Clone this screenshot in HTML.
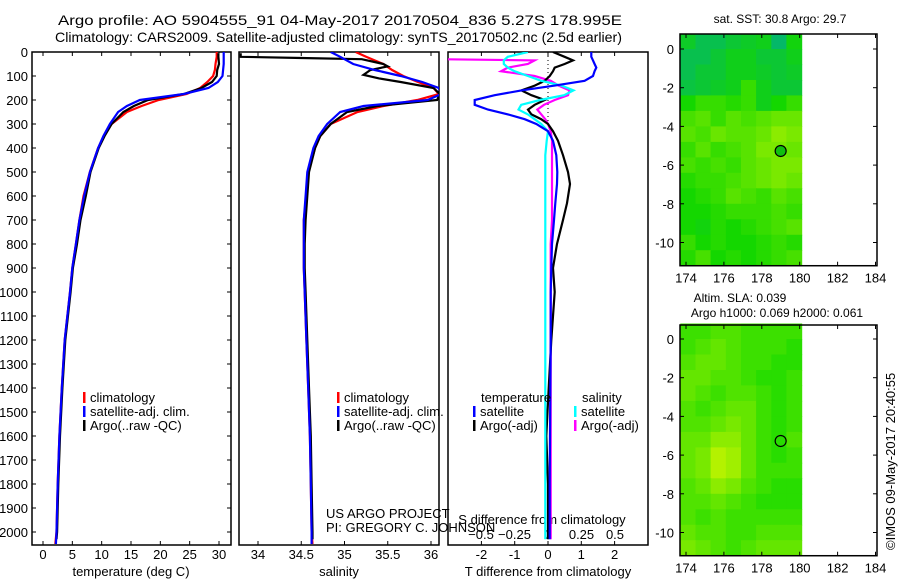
<!DOCTYPE html>
<html><head><meta charset="utf-8"><style>
body{margin:0;background:#fff}
svg{display:block;font-family:"Liberation Sans",sans-serif}
</style></head><body>
<svg id="c" width="900" height="580" viewBox="0 0 900 580">
<defs>
<clipPath id="cp1"><rect x="32" y="52" width="199" height="493"/></clipPath>
<clipPath id="cp2"><rect x="239" y="52" width="200" height="493"/></clipPath>
<clipPath id="cp3"><rect x="448" y="52" width="200" height="493"/></clipPath>
</defs>
<text x="58" y="25" font-size="14" textLength="564" lengthAdjust="spacingAndGlyphs">Argo profile: AO 5904555_91 04-May-2017 20170504_836 5.27S 178.995E</text>
<text x="55" y="42" font-size="14" textLength="567" lengthAdjust="spacingAndGlyphs">Climatology: CARS2009. Satellite-adjusted climatology: synTS_20170502.nc (2.5d earlier)</text>
<g id="g"></g>
</svg>
<script>
const depthTS=[0,20,50,75,100,125,150,175,200,225,250,300,350,400,500,600,700,800,900,1000,1200,1400,1600,1800,2000,2050];
const tempClim=[29.6,29.6,29.4,29.3,29.0,28.0,26.8,24.5,19.7,16.8,14.3,11.7,10.4,9.4,8.0,6.9,6.2,5.6,5.0,4.6,3.7,3.2,2.8,2.5,2.3,2.1];
const tempSat=[30.8,30.8,30.8,30.7,30.6,29.8,28.2,24.0,16.5,14.3,12.8,11.4,10.3,9.4,8.0,7.0,6.2,5.6,5.0,4.6,3.7,3.2,2.8,2.5,2.3,2.2];
const depthArgoT=[5,20,50,75,100,125,150,175,200,225,250,300,350,400,500,600,700,800,900,1000,1200,1400,1600,1800,2000,2030];
const tempArgo=[29.9,29.9,30.0,29.7,29.6,28.8,27.0,24.0,17.9,15.5,13.7,11.7,10.5,9.5,8.1,7.3,6.4,5.8,5.1,4.7,3.8,3.3,2.9,2.6,2.4,2.3];
const salClim=[35.13,35.25,35.45,35.55,35.68,35.85,36.03,36.09,35.84,35.45,35.15,34.84,34.72,34.66,34.58,34.56,34.53,34.53,34.53,34.54,34.56,34.58,34.6,34.61,34.62,34.63];
const salSat=[34.84,34.95,35.1,35.35,35.65,35.9,36.09,36.12,35.96,35.22,34.95,34.8,34.7,34.64,34.57,34.55,34.53,34.53,34.53,34.54,34.56,34.58,34.6,34.61,34.62,34.62];
const depthArgoS=[5,20,25,30,50,60,75,95,110,125,150,175,200,225,250,300,350,400,500,600,700,800,900,1000,1200,1400,1600,1800,2000,2030];
const salArgo=[33.8,33.8,34.5,35.2,35.45,35.5,35.3,35.22,35.4,35.65,36.03,36.1,36.07,35.38,35.03,34.84,34.72,34.66,34.59,34.57,34.55,34.54,34.54,34.55,34.57,34.59,34.61,34.62,34.63,34.63];
const depthDiff=[0,20,35,50,65,80,100,120,140,160,180,200,220,240,260,280,300,330,370,430,500,550,630,700,800,900,1000,1200,1400,1600,1800,2000,2030];
const diffTSat=[1.3,1.3,1.35,1.4,1.45,1.4,1.35,1.1,0.2,-0.8,-1.6,-2.2,-2.2,-1.8,-1.2,-0.7,-0.35,0,0.15,0.25,0.28,0.27,0.22,0.18,0.12,0.1,0.08,0.08,0.07,0.06,0.05,0.05,0.05];
const diffTArgo=[0.15,0.5,0.75,0.5,0.2,0.15,0.05,-0.1,-0.4,-0.8,-0.5,-0.1,-0.4,-0.6,-0.5,-0.2,0,0.15,0.3,0.45,0.6,0.66,0.57,0.45,0.27,0.15,0.2,0.1,0.02,-0.05,0,0,0];
const diffSSat=[-0.15,-0.3,-0.33,-0.33,-0.3,-0.25,-0.15,-0.05,0.1,0.19,0.12,-0.06,-0.2,-0.22,-0.15,-0.1,-0.05,0,-0.01,-0.02,-0.02,-0.02,-0.02,-0.02,-0.02,-0.02,-0.02,-0.02,-0.02,-0.02,-0.02,-0.02,-0.02];
const depthDiffSArgo=[25,30,35,50,65,80,100,120,140,160,180,200,220,240,260,280,300,330,370,430,500,550,630,700,800,900,1000,1200,1400,1600,1800,2000,2030];
const diffSArgo=[-0.8,-0.8,-0.1,-0.15,-0.3,-0.35,-0.1,0.02,0.08,0.16,0.15,0.05,-0.03,-0.08,-0.05,-0.02,0,0.02,0.03,0.03,0.03,0.03,0.03,0.03,0.02,0.02,0.02,0.02,0.02,0.02,0.02,0.02,0.02];
const depthTicks=[0,100,200,300,400,500,600,700,800,900,1000,1100,1200,1300,1400,1500,1600,1700,1800,1900,2000];
const tempTicks=[0,5,10,15,20,25,30];
const salTicks=[34,34.5,35,35.5,36];
const tdTicks=[-2,-1,0,1,2];
const sdTicks=[-0.5,-0.25,0,0.25,0.5];
const lonTicks=[174,176,178,180,182,184];
const latTicks=[0,-2,-4,-6,-8,-10];
const sstGrid=[
[0.35,0.2,0.2,0.3,0.35,0.4,0.1,0.45],[0.2,0.2,0.3,0.4,0.4,0.3,0.3,0.4],[0.2,0.3,0.3,0.4,0.4,0.35,0.3,0.35],
[0.25,0.3,0.35,0.4,0.6,0.4,0.3,0.3],[0.5,0.6,0.6,0.55,0.6,0.4,0.5,0.6],[0.65,0.7,0.6,0.7,0.65,0.7,0.75,0.75],
[0.7,0.65,0.75,0.7,0.7,0.75,0.85,0.8],[0.6,0.7,0.6,0.65,0.7,0.8,0.8,0.75],[0.65,0.6,0.65,0.6,0.7,0.75,0.8,0.8],
[0.55,0.6,0.6,0.65,0.7,0.75,0.8,0.75],[0.5,0.55,0.6,0.7,0.65,0.6,0.7,0.65],[0.5,0.5,0.55,0.6,0.6,0.6,0.65,0.6],
[0.5,0.45,0.55,0.5,0.55,0.6,0.65,0.7],[0.6,0.5,0.55,0.5,0.5,0.55,0.6,0.55],[0.55,0.65,0.5,0.55,0.5,0.55,0.6,0.65]];
const slaGrid=[
[0.3,0.3,0.4,0.4,0.3,0.3,0.3,0.3],[0.3,0.4,0.5,0.4,0.3,0.3,0.3,0.2],[0.4,0.5,0.5,0.4,0.3,0.3,0.2,0.2],
[0.5,0.5,0.4,0.4,0.3,0.2,0.2,0.3],[0.5,0.4,0.3,0.4,0.4,0.3,0.2,0.3],[0.4,0.3,0.4,0.5,0.5,0.3,0.2,0.3],
[0.4,0.4,0.5,0.6,0.5,0.3,0.2,0.3],[0.5,0.5,0.7,0.7,0.5,0.3,0.2,0.4],[0.5,0.6,0.9,0.8,0.5,0.3,0.2,0.3],
[0.5,0.6,0.9,0.8,0.5,0.3,0.3,0.3],[0.4,0.5,0.7,0.6,0.4,0.3,0.2,0.2],[0.4,0.4,0.5,0.4,0.3,0.2,0.2,0.2],
[0.4,0.3,0.4,0.3,0.3,0.3,0.3,0.3],[0.5,0.4,0.4,0.3,0.3,0.4,0.4,0.4],[0.6,0.5,0.4,0.3,0.4,0.5,0.5,0.5]];
const argoPos=[178.995,-5.27];

const NS='http://www.w3.org/2000/svg';
const G=document.getElementById('g');
function el(t,a,p){const e=document.createElementNS(NS,t);for(const k in a)e.setAttribute(k,a[k]);(p||G).appendChild(e);return e;}
function txt(x,y,s,anchor,size,p){const e=el('text',{x:x,y:y,'font-size':size||13,'text-anchor':anchor||'start'},p);e.textContent=s;return e;}
const yD=d=>52+d*0.24;
const xT=v=>43+v*5.8667;
const xS=v=>258+(v-34)*86.5;
const xTD=v=>548+v*33.3;
const xSD=v=>548+v*134;

function panel(x0,w,name){
  const r=el('rect',{x:x0,y:52,width:w,height:493,fill:'none',stroke:'#000','stroke-width':1.5});
  
  
}
function line(xs,ds,xf,color,clip,name){
  let d='';xs.forEach((v,i)=>{d+=(i?'L':'M')+xf(v).toFixed(1)+','+yD(ds[i]).toFixed(1);});
  const p=el('path',{d:d,fill:'none',stroke:color,'stroke-width':2.2,'clip-path':'url(#'+clip+')'});
  
  
}
panel(32,199,'temperature-panel');
depthTicks.forEach(d=>{
  el('line',{x1:32,x2:36,y1:yD(d),y2:yD(d),stroke:'#000'});
  el('line',{x1:227,x2:231,y1:yD(d),y2:yD(d),stroke:'#000'});
  const t=txt(28,yD(d)+5,String(d),'end',13);
  
  
});
tempTicks.forEach(v=>{
  el('line',{x1:xT(v),x2:xT(v),y1:541,y2:545,stroke:'#000'});
  el('line',{x1:xT(v),x2:xT(v),y1:52,y2:56,stroke:'#000'});
  const t=txt(xT(v),559,String(v),'middle',13);
  
  
});
let t1=txt(131,576,'temperature (deg C)','middle',13);


line(tempClim,depthTS,xT,'#f00','cp1','temp-climatology-line');
line(tempArgo,depthArgoT,xT,'#000','cp1','temp-argo-line');
line(tempSat,depthTS,xT,'#00f','cp1','temp-satellite-line');
function legend(x,y,color,label,name){
  const g=el('g',{});
  
  
  el('rect',{x:x,y:y-10,width:2.5,height:11,fill:color},g);
  txt(x+7,y,label,'start',13,g);
}
legend(83,402,'#f00','climatology','legend-climatology');
legend(83,416,'#00f','satellite-adj. clim.','legend-satellite');
legend(83,430,'#000','Argo(..raw -QC)','legend-argo');
panel(239,200,'salinity-panel');
salTicks.forEach(v=>{
  el('line',{x1:xS(v),x2:xS(v),y1:541,y2:545,stroke:'#000'});
  el('line',{x1:xS(v),x2:xS(v),y1:52,y2:56,stroke:'#000'});
  const t=txt(xS(v),559,String(v),'middle',13);
  
  
});
let t2=txt(339,576,'salinity','middle',13);


line(salClim,depthTS,xS,'#f00','cp2','sal-climatology-line');
line(salArgo,depthArgoS,xS,'#000','cp2','sal-argo-line');
line(salSat,depthTS,xS,'#00f','cp2','sal-satellite-line');
legend(337,402,'#f00','climatology','legend-sal-climatology');
legend(337,416,'#00f','satellite-adj. clim.','legend-sal-satellite');
legend(337,430,'#000','Argo(..raw -QC)','legend-sal-argo');
let c1=txt(326,518,'US ARGO PROJECT','start',13);


let c2=txt(326,532,'PI: GREGORY C. JOHNSON','start',13);


panel(448,200,'difference-panel');
el('line',{x1:548,x2:548,y1:52,y2:125,stroke:'#000','stroke-dasharray':'1,3'});
tdTicks.forEach(v=>{
  el('line',{x1:xTD(v),x2:xTD(v),y1:541,y2:545,stroke:'#000'});
  el('line',{x1:xTD(v),x2:xTD(v),y1:52,y2:56,stroke:'#000'});
  const t=txt(xTD(v),559,String(v),'middle',13);
  
  
});
sdTicks.forEach(v=>{
  const t=txt(xSD(v),539,String(v).replace('-','\u2212'),'middle',13);
  
  
});
let t3=txt(542,524,'S difference from climatology','middle',13);


let t4=txt(548,576,'T difference from climatology','middle',13);


line(diffSArgo,depthDiffSArgo,xSD,'#f0f','cp3','s-diff-argo-line');
line(diffTArgo,depthDiff,xTD,'#000','cp3','t-diff-argo-line');
line(diffSSat,depthDiff,xSD,'#0ff','cp3','s-diff-satellite-line');
line(diffTSat,depthDiff,xTD,'#00f','cp3','t-diff-satellite-line');
let l1=txt(481,402,'temperature','start',13);


let l2=txt(582,402,'salinity','start',13);


legend(473,416,'#00f','satellite','legend-t-satellite');
legend(473,430,'#000','Argo(-adj)','legend-t-argo');
legend(574,416,'#0ff','satellite','legend-s-satellite');
legend(574,430,'#f0f','Argo(-adj)','legend-s-argo');

function mix(a,b,t){return a.map((v,i)=>Math.round(v+(b[i]-v)*t));}
function sstColor(v){const c0=[0,176,130],c1=[20,215,0],c2=[190,245,0];
  const c=v<0.5?mix(c0,c1,v/0.5):mix(c1,c2,(v-0.5)/0.5);return 'rgb('+c.join(',')+')';}
function slaColor(v){const c=mix([0,215,0],[200,245,0],v);return 'rgb('+c.join(',')+')';}
function map(top,lat0y,grid,colf,name,filled){
  const xL=lon=>686+(lon-174)*18.95, yL=lat=>lat0y-lat*19.35;
  const g=el('g',{});
  
  
  const lonA=173.7,lonB=180.1,latA=0.8,latB=-11.2;
  const nr=grid.length,nc=grid[0].length;
  const cw=(lonB-lonA)/nc,ch=(latA-latB)/nr;
  grid.forEach((row,i)=>row.forEach((v,j)=>{
    const x=xL(lonA+j*cw),y=yL(latA-i*ch);
    const r=el('rect',{x:x.toFixed(1),y:y.toFixed(1),width:(cw*18.95+0.6).toFixed(1),height:(ch*19.35+0.6).toFixed(1),fill:colf(v)},g);
    
    
  }));
  const bottom=yL(latB);
  el('rect',{x:680,y:top,width:197,height:bottom-top,fill:'none',stroke:'#000','stroke-width':1.5},g);
  lonTicks.forEach(v=>{
    el('line',{x1:xL(v),x2:xL(v),y1:top,y2:top+4,stroke:'#000'},g);
    el('line',{x1:xL(v),x2:xL(v),y1:bottom-4,y2:bottom,stroke:'#000'},g);
    txt(xL(v),bottom+17,String(v),'middle',13,g);
  });
  latTicks.forEach(v=>{
    el('line',{x1:680,x2:684,y1:yL(v),y2:yL(v),stroke:'#000'},g);
    el('line',{x1:873,x2:877,y1:yL(v),y2:yL(v),stroke:'#000'},g);
    txt(674,yL(v)+5,String(v),'end',13,g);
  });
  const m=el('circle',{cx:xL(argoPos[0]),cy:yL(argoPos[1]),r:5.5,fill:filled?'#10c010':'none',stroke:'#000','stroke-width':1.2},g);
  
  
}
map(34,49,sstGrid,sstColor,'sst-map',true);
map(325,339,slaGrid,slaColor,'sla-map',false);
let m1=txt(780,23,'sat. SST: 30.8 Argo: 29.7','middle',12);


let m2=txt(740,302,'Altim. SLA: 0.039','middle',12);


let m3=txt(777,317,'Argo h1000: 0.069 h2000: 0.061','middle',12);


let cr=txt(0,0,'\u00A9IMOS 09-May-2017 20:40:55','start',13);
cr.setAttribute('transform','translate(895,550) rotate(-90)');


</script>
</body></html>
